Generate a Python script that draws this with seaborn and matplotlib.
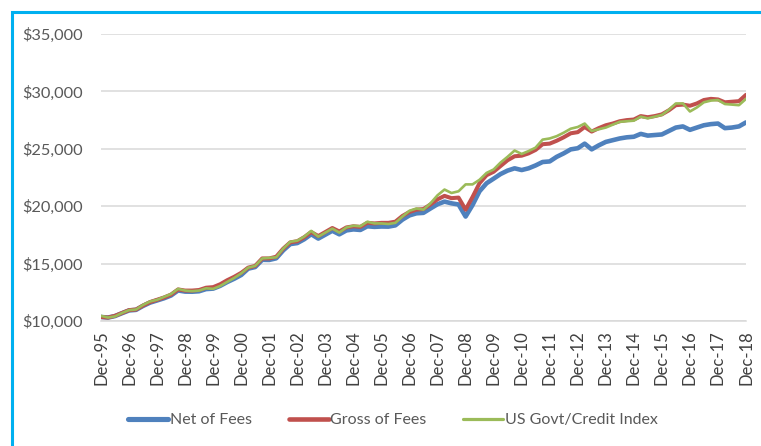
import pandas as pd
import matplotlib.pyplot as plt
import matplotlib.dates as mdates
from matplotlib.patches import Rectangle
from matplotlib.ticker import FuncFormatter
import seaborn as sns

# quarter-end values, Dec-95 .. Dec-18
net_of_fees = [
    10350,
    10300, 10430, 10680, 10920,
    10970, 11310, 11600, 11790,
    11980, 12220, 12660, 12560,
    12550, 12590, 12780, 12820,
    13060, 13390, 13680, 14010,
    14560, 14700, 15330, 15320,
    15460, 16150, 16700, 16790,
    17120, 17560, 17180, 17520,
    17860, 17550, 17890, 17980,
    17930, 18250, 18200, 18230,
    18220, 18330, 18830, 19200,
    19380, 19420, 19800, 20170,
    20400, 20250, 20150, 19100,
    20100, 21300, 22000, 22400,
    22800, 23100, 23300, 23150,
    23300, 23550, 23850, 23900,
    24300, 24600, 24950, 25050,
    25450, 24950, 25300, 25600,
    25750, 25900, 26000, 26050,
    26300, 26150, 26200, 26250,
    26550, 26850, 26950, 26650,
    26850, 27050, 27150, 27200,
    26800, 26850, 26950, 27300,
]
gross_of_fees = [
    10350,
    10300, 10450, 10700, 10950,
    11000, 11350, 11650, 11850,
    12050, 12300, 12750, 12650,
    12650, 12700, 12900, 12950,
    13200, 13550, 13850, 14200,
    14650, 14800, 15450, 15450,
    15600, 16300, 16850, 16950,
    17300, 17750, 17400, 17750,
    18100, 17800, 18150, 18250,
    18200, 18550, 18500, 18550,
    18550, 18650, 19150, 19500,
    19700, 19750, 20150, 20600,
    20900, 20700, 20750, 19700,
    20800, 22000, 22700, 23000,
    23500, 24000, 24350, 24400,
    24600, 24900, 25400, 25450,
    25700, 26000, 26350, 26450,
    26900, 26500, 26800, 27050,
    27200, 27400, 27500, 27550,
    27850, 27750, 27850, 28000,
    28350, 28800, 28850, 28750,
    28950, 29250, 29350, 29300,
    29050, 29100, 29150, 29700,
]
govt_credit_index = [
    10450,
    10300, 10400, 10700, 10950,
    11000, 11400, 11700, 11850,
    12100, 12350, 12800, 12650,
    12600, 12650, 12850, 12800,
    13050, 13400, 13750, 14150,
    14650, 14800, 15450, 15500,
    15550, 16300, 16900, 17000,
    17350, 17850, 17350, 17700,
    18050, 17700, 18150, 18300,
    18250, 18650, 18500, 18500,
    18450, 18550, 19100, 19600,
    19800, 19700, 20250, 20950,
    21450, 21150, 21300, 21900,
    21900, 22300, 22900, 23200,
    23800, 24300, 24850, 24550,
    24800, 25100, 25800, 25900,
    26100, 26400, 26750, 26900,
    27200, 26550, 26700, 26850,
    27100, 27350, 27400, 27450,
    27800, 27650, 27800, 27950,
    28400, 28950, 28950, 28250,
    28600, 29050, 29200, 29250,
    28900, 28850, 28800, 29350,
]
series_names = ["Net of Fees", "Gross of Fees", "US Govt/Credit Index"]
dates = pd.date_range("1995-12-31", "2018-12-31", freq="QE")
tick_dates = pd.date_range("1995-12-31", "2018-12-31", freq="YE")
y_ticks = [10000, 15000, 20000, 25000, 30000, 35000]

colors = {"Net of Fees": "#4F81BD", "Gross of Fees": "#C0504D",
          "US Govt/Credit Index": "#9BBB59"}
widths = {"Net of Fees": 3.3, "Gross of Fees": 2.9, "US Govt/Credit Index": 1.9}

df = pd.DataFrame({
    "date": list(dates) * 3,
    "value": net_of_fees + gross_of_fees + govt_credit_index,
    "series": [s for s in series_names for _ in dates],
})

sns.set_style("white")
plt.rcParams["font.family"] = ["Lato", "DejaVu Sans"]

fig = plt.figure(figsize=(7.61, 4.46), dpi=100)
ax = fig.add_axes([101 / 761, 1 - 321 / 446, 645 / 761, 287 / 446])

for name in series_names:
    sns.lineplot(data=df[df["series"] == name], x="date", y="value", ax=ax,
                 color=colors[name], linewidth=widths[name], label=name,
                 legend=False)

ax.set_xlim(dates[0], dates[-1])
ax.set_ylim(10000, 35000)
ax.set_yticks(y_ticks)
ax.yaxis.set_major_formatter(FuncFormatter(lambda v, p: f"${v:,.0f}"))
ax.set_xticks(tick_dates)
ax.xaxis.set_major_formatter(mdates.DateFormatter("%b-%y"))
ax.set_xlabel("")
ax.set_ylabel("")

ax.grid(axis="y", color="#D9D9D9", linewidth=1.1)
ax.set_axisbelow(True)
for side in ["top", "right", "left"]:
    ax.spines[side].set_visible(False)
ax.spines["bottom"].set_color("#D9D9D9")
ax.spines["bottom"].set_linewidth(1.1)
ax.tick_params(axis="x", direction="out", length=5, width=1, color="#D9D9D9",
               labelsize=12, labelcolor="#404040", labelrotation=90, pad=2)
ax.tick_params(axis="y", length=0, labelsize=11.8, labelcolor="#595959", pad=13)

handles = [plt.Line2D([], [], color=colors[n], linewidth=widths[n] + 0.4) for n in series_names]
fig.legend(handles, series_names, loc="center", bbox_to_anchor=(393 / 761, 1 - 420 / 446),
           ncol=3, frameon=False, fontsize=11.5, labelcolor="#595959",
           handlelength=2.5, handletextpad=0.1, columnspacing=2.3)

# outer chart frame
fig.patches.append(Rectangle((12 / 761, -0.1), 1.2, 1.1 - 12 / 446,
                             transform=fig.transFigure, fill=False,
                             edgecolor="#00B0F0", linewidth=2.2))

fig.savefig("out.png", dpi=100)
